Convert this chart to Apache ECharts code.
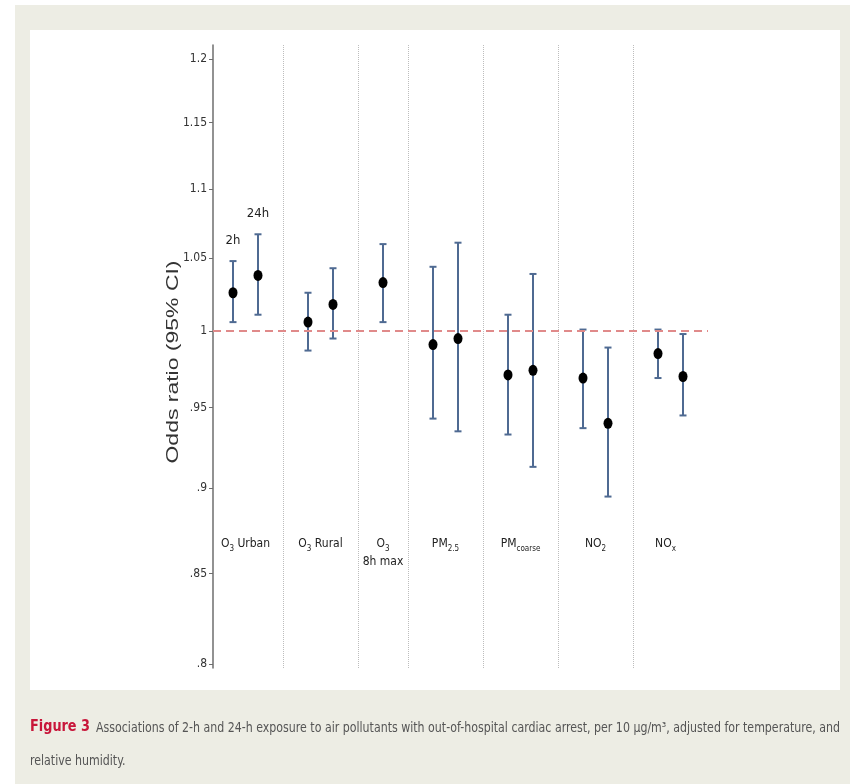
<!DOCTYPE html>
<html lang="en">
<head>
    <meta charset="UTF-8">
    <title>Figure 3</title>
    <script src="https://cdn.jsdelivr.net/npm/echarts@6/dist/echarts.min.js"></script>
    <style>
        body { margin: 0; background: #fff; }
        #main { width: 856px; height: 784px; }
    </style>
</head>
<body>
<div id="main"></div>
<script type="text/javascript">
    // x positions of each estimate (2h / 24h pairs)
    var positions = [1, 2, 4, 5, 7, 9, 10, 12, 13, 15, 16, 18, 19];
    var oddsRatios = [1.026, 1.038, 1.006, 1.018, 1.033, 0.991, 0.995, 0.971, 0.974, 0.969, 0.940, 0.985, 0.970];
    var ciLower = [1.006, 1.011, 0.987, 0.995, 1.006, 0.943, 0.935, 0.933, 0.913, 0.937, 0.895, 0.969, 0.945];
    var ciUpper = [1.048, 1.067, 1.026, 1.043, 1.060, 1.044, 1.061, 1.011, 1.039, 1.001, 0.989, 1.001, 0.998];
    var barLabels = ['2h', '24h', '', '', '', '', '', '', '', '', '', '', ''];

    // pollutant groups
    var groupPositions = [1.5, 4.5, 7, 9.5, 12.5, 15.5, 18.3];
    var groupNames = ['O', 'O', 'O', 'PM', 'PM', 'NO', 'NO'];
    var groupSubs = ['3', '3', '3', '2.5', 'coarse', '2', 'x'];
    var groupSuffix = [' Urban', ' Rural', '\n8h max', '', '', '', ''];
    var separators = [3, 6, 8, 11, 14, 17];

    // y axis (log scale)
    var yTicks = [0.8, 0.85, 0.9, 0.95, 1, 1.05, 1.1, 1.15, 1.2];
    var yTickLabels = ['.8', '.85', '.9', '.95', '1', '1.05', '1.1', '1.15', '1.2'];

    var yTitle = 'Odds ratio (95% CI)';
    var captionHead = 'Figure 3';
    var captionBody = 'Associations of 2-h and 24-h exposure to air pollutants with out-of-hospital cardiac arrest, per 10 μg/m³, adjusted for temperature, and';
    var captionLine2 = 'relative humidity.';

    var narrow = '"DejaVu Sans Condensed", "Liberation Sans", sans-serif';
    var sans = '"Liberation Sans", Arial, sans-serif';
    var barColor = '#4f6a92';

    // horizontal squeeze so a text fills a given width (the scan is condensed)
    var measureCtx = document.createElement('canvas').getContext('2d');
    function fitScale(text, font, width) {
        measureCtx.font = font;
        return width / measureCtx.measureText(text).width;
    }

    function nearestIndex(arr, v) {
        var best = 0;
        for (var i = 1; i < arr.length; i++) {
            if (Math.abs(arr[i] - v) < Math.abs(arr[best] - v)) best = i;
        }
        return best;
    }

    var logTicks = yTicks.map(function (t) { return Math.log(t); });

    var barData = positions.map(function (p, i) {
        return [p, Math.log(ciLower[i]), Math.log(ciUpper[i])];
    });
    var pointData = positions.map(function (p, i) {
        return [p, Math.log(oddsRatios[i])];
    });

    function renderBar(params, api) {
        var x = api.value(0);
        var lo = api.coord([x, api.value(1)]);
        var hi = api.coord([x, api.value(2)]);
        var cap = 3.5;
        var lineStyle = { stroke: barColor, lineWidth: 2 };
        var children = [
            { type: 'line', shape: { x1: hi[0], y1: hi[1], x2: lo[0], y2: lo[1] }, style: lineStyle },
            { type: 'line', shape: { x1: hi[0] - cap, y1: hi[1], x2: hi[0] + cap, y2: hi[1] }, style: lineStyle },
            { type: 'line', shape: { x1: lo[0] - cap, y1: lo[1], x2: lo[0] + cap, y2: lo[1] }, style: lineStyle }
        ];
        var lab = barLabels[params.dataIndex];
        if (lab) {
            children.push({
                type: 'text',
                style: {
                    text: lab, x: hi[0], y: hi[1] - 14,
                    align: 'center', verticalAlign: 'bottom',
                    fontSize: 13, fontFamily: narrow, fill: '#222'
                }
            });
        }
        return { type: 'group', children: children };
    }

    var headScale = fitScale(captionHead, 'bold 16px ' + narrow, 60);
    var bodyScale = fitScale(captionBody, '14px ' + narrow, 744);
    var titleScale = fitScale(yTitle, '17px ' + sans, 203);

    var myChart = echarts.init(document.getElementById('main'));

    var option = {
        backgroundColor: '#fff',
        animation: false,
        grid: {
            left: 213, right: 148, top: 45, bottom: 116,
            outerBoundsMode: 'none'
        },
        graphic: [
            { type: 'rect', z: -20, shape: { x: 15, y: 5, width: 835, height: 779 }, style: { fill: '#ededE4' } },
            { type: 'rect', z: -19, shape: { x: 30, y: 30, width: 810, height: 660 }, style: { fill: '#ffffff' } },
            {
                type: 'text', x: 173, y: 362, rotation: Math.PI / 2, scaleX: titleScale,
                style: { text: yTitle, x: 0, y: 0, align: 'center', verticalAlign: 'middle', fontSize: 17, fontFamily: sans, fill: '#333' }
            },
            {
                type: 'text', x: 30, y: 727, scaleX: headScale,
                style: { text: captionHead, x: 0, y: 0, verticalAlign: 'middle', fontSize: 16, fontWeight: 'bold', fontFamily: narrow, fill: '#c8163a' }
            },
            {
                type: 'text', x: 96, y: 728, scaleX: bodyScale,
                style: { text: captionBody, x: 0, y: 0, verticalAlign: 'middle', fontSize: 14, fontFamily: narrow, fill: '#555' }
            },
            {
                type: 'text', x: 30, y: 761, scaleX: bodyScale,
                style: { text: captionLine2, x: 0, y: 0, verticalAlign: 'middle', fontSize: 14, fontFamily: narrow, fill: '#555' }
            }
        ],
        xAxis: {
            type: 'value',
            min: 0.2,
            max: 20,
            offset: -141,
            axisLine: { show: false },
            axisTick: { show: false },
            splitLine: { show: false },
            axisLabel: {
                customValues: groupPositions,
                margin: 8,
                formatter: function (v) {
                    var i = nearestIndex(groupPositions, v);
                    var s = '{n|' + groupNames[i] + '}{s|' + groupSubs[i] + '}';
                    var suf = groupSuffix[i];
                    if (suf.charAt(0) === '\n') {
                        s += '\n{n|' + suf.slice(1) + '}';
                    } else if (suf) {
                        s += '{n|' + suf + '}';
                    }
                    return s;
                },
                rich: {
                    n: { fontSize: 12, lineHeight: 18, color: '#222', fontFamily: narrow },
                    s: { fontSize: 8, lineHeight: 12, verticalAlign: 'bottom', color: '#222', fontFamily: narrow }
                }
            }
        },
        yAxis: {
            type: 'value',
            min: Math.log(0.8) - 4 / 1492,
            max: Math.log(1.2) + 14 / 1492,
            axisLine: { show: true, lineStyle: { color: '#6e6e6e', width: 1.5 } },
            axisTick: { show: true, length: 4, customValues: logTicks, lineStyle: { color: '#6e6e6e' } },
            splitLine: { show: false },
            axisLabel: {
                customValues: logTicks,
                margin: 6,
                fontSize: 12,
                color: '#333',
                fontFamily: narrow,
                formatter: function (v) {
                    return yTickLabels[nearestIndex(logTicks, v)];
                }
            }
        },
        series: [
            {
                name: 'CI',
                type: 'custom',
                renderItem: renderBar,
                encode: { x: 0, y: [1, 2] },
                data: barData,
                z: 3,
                markLine: {
                    silent: true,
                    symbol: 'none',
                    label: { show: false },
                    lineStyle: { color: '#bdbdbd', type: 'dotted', width: 1 },
                    data: separators.map(function (s) { return { xAxis: s }; })
                }
            },
            {
                name: 'OR',
                type: 'scatter',
                symbol: 'circle',
                symbolSize: [9, 11],
                itemStyle: { color: '#000', opacity: 1 },
                data: pointData,
                z: 5,
                markLine: {
                    silent: true,
                    symbol: 'none',
                    label: { show: false },
                    lineStyle: { color: '#e08a8a', type: [8, 5], width: 2 },
                    data: [{ yAxis: 0 }]
                }
            }
        ]
    };

    myChart.setOption(option);
</script>
</body>
</html>
